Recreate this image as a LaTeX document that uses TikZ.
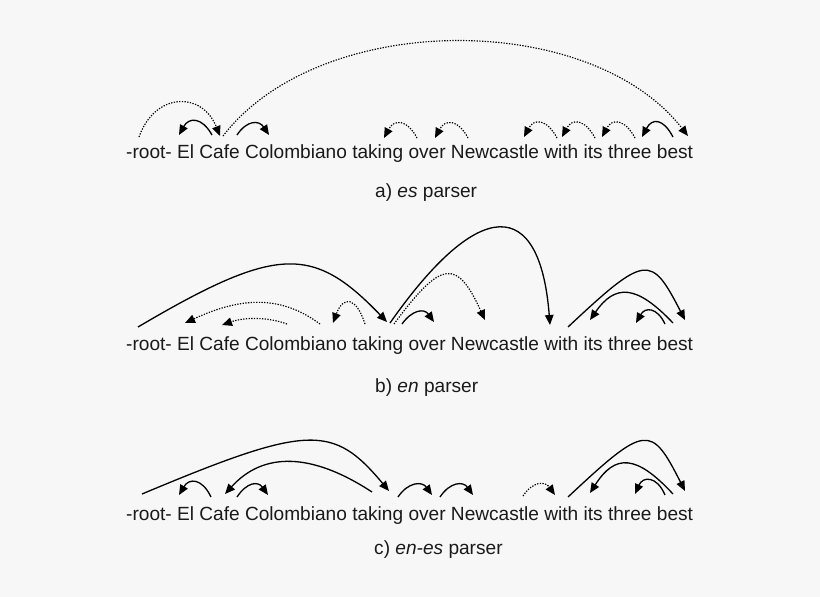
\documentclass[tikz,border=0pt]{standalone}
\usepackage{fontspec}
\setmainfont{Liberation Sans}
\usetikzlibrary{arrows.meta}
\definecolor{bgcol}{HTML}{F7F7F7}
\definecolor{txtcol}{HTML}{1A1A1A}
\tikzset{
  sent/.style={anchor=base west, inner sep=0pt, text=txtcol, font=\fontsize{19.1}{23}\selectfont},
  tipstyle/.style={-{Triangle[length=10pt,width=8.5pt]}},
  arcsolid/.style={tipstyle, line width=1.3pt, draw=black},
  arcdot/.style={tipstyle, line width=1.15pt, draw=black, dash pattern=on 1.3pt off 1.4pt},
}
\begin{document}
\begin{tikzpicture}[x=1pt,y=-1pt]
\fill[bgcol] (0,0) rectangle (820,597);
\useasboundingbox (0,0) rectangle (820,597);

% ---------- sentences and captions ----------
\node[sent] (sa) at (126,158.5) {-root- El Cafe Colombiano taking over Newcastle with its three best};
\node[sent] (la) at (375,197) {a) \textit{es} parser};
\node[sent] (sb) at (126,350) {-root- El Cafe Colombiano taking over Newcastle with its three best};
\node[sent] (lb) at (375,392) {b) \textit{en} parser};
\node[sent] (sc) at (126,520) {-root- El Cafe Colombiano taking over Newcastle with its three best};
\node[sent] (lc) at (374,554) {c) \textit{en-es} parser};

% ---------- panel a ----------
\coordinate (a1s) at (139,137);  \coordinate (a1t) at (220,136);
\coordinate (a2s) at (212,135);  \coordinate (a2t) at (179,135);
\coordinate (a4s) at (237,135);  \coordinate (a4t) at (269,135);
\coordinate (a5s) at (417,138);  \coordinate (a5t) at (384,138);
\coordinate (a6s) at (468,138);  \coordinate (a6t) at (435,138);
\coordinate (a7s) at (557,138);  \coordinate (a7t) at (524,137);
\coordinate (a8s) at (595,138);  \coordinate (a8t) at (562,137);
\coordinate (a9s) at (635,138);  \coordinate (a9t) at (602,137);
\coordinate (a10s) at (673,137); \coordinate (a10t) at (642,137);
\coordinate (a11s) at (223,136); \coordinate (a11t) at (688,136);

\draw[arcdot]   (a1s) .. controls +(16,-45) and +(-18,-45) .. (a1t);
\draw[arcsolid] (a2s) .. controls +(-10,-18) and +(10,-18) .. (a2t);
\draw[arcsolid] (a4s) .. controls +(10,-15) and +(-10,-15) .. (a4t);
\draw[arcdot]   (a5s) .. controls +(-10,-19) and +(10,-19) .. (a5t);
\draw[arcdot]   (a6s) .. controls +(-10,-19) and +(10,-19) .. (a6t);
\draw[arcdot]   (a7s) .. controls +(-10,-19) and +(10,-19) .. (a7t);
\draw[arcdot]   (a8s) .. controls +(-10,-19) and +(10,-19) .. (a8t);
\draw[arcdot]   (a9s) .. controls +(-10,-19) and +(10,-19) .. (a9t);
\draw[arcsolid] (a10s) .. controls +(-10,-19) and +(10,-19) .. (a10t);
\draw[arcdot]   (a11s) .. controls (320,10) and (590,10) .. (a11t);

% ---------- panel b ----------
\coordinate (b1s) at (138,327);  \coordinate (b1t) at (387,322);
\coordinate (b2s) at (320,324);  \coordinate (b2t) at (185,323);
\coordinate (b3s) at (287,324);  \coordinate (b3t) at (222,325);
\coordinate (b4s) at (365,324);  \coordinate (b4t) at (333,323);
\coordinate (b5s) at (390,323);  \coordinate (b5t) at (550,325);
\coordinate (b6s) at (394,324);  \coordinate (b6t) at (485,320);
\coordinate (b7s) at (402,324);  \coordinate (b7t) at (434,322);
\coordinate (b8s) at (568,327);  \coordinate (b8t) at (685,320);
\coordinate (b9s) at (673,323);  \coordinate (b9t) at (590,320);
\coordinate (b10s) at (665,324); \coordinate (b10t) at (636,323);

\draw[arcsolid] (b1s) .. controls (277,245) and (313,245) .. (b1t);
\draw[arcdot]   (b2s) .. controls (282,296) and (243,296) .. (b2t);
\draw[arcdot]   (b3s) .. controls (268,317) and (245,317) .. (b3t);
\draw[arcdot]   (b4s) .. controls +(-9,-28) and +(10,-27) .. (b4t);
\draw[arcsolid] (b5s) .. controls (479,196) and (540,196) .. (b5t);
\draw[arcdot]   (b6s) .. controls (442,259) and (457,259) .. (b6t);
\draw[arcsolid] (b7s) .. controls +(10,-14) and +(-10,-14) .. (b7t);
\draw[arcsolid] (b8s) .. controls (646,254) and (651,254) .. (b8t);
\draw[arcsolid] (b9s) .. controls (636,284) and (615,284) .. (b9t);
\draw[arcsolid] (b10s) .. controls (657,307) and (645,307) .. (b10t);

% ---------- panel c ----------
\coordinate (c1s) at (142,494);  \coordinate (c1t) at (389,491);
\coordinate (c2s) at (372,492);  \coordinate (c2t) at (225,494);
\coordinate (c3s) at (211,497);  \coordinate (c3t) at (179,495);
\coordinate (c4s) at (237,497);  \coordinate (c4t) at (268,495);
\coordinate (c5s) at (398,497);  \coordinate (c5t) at (432,495);
\coordinate (c6s) at (440,497);  \coordinate (c6t) at (473,495);
\coordinate (c7s) at (523,496);  \coordinate (c7t) at (555,495);
\coordinate (c8s) at (568,497);  \coordinate (c8t) at (685,491);
\coordinate (c9s) at (673,494);  \coordinate (c9t) at (590,493);
\coordinate (c10s) at (665,495); \coordinate (c10t) at (635,494);

\draw[arcsolid] (c1s) .. controls (309,424) and (333,424) .. (c1t);
\draw[arcsolid] (c2s) .. controls (311,452) and (263,452) .. (c2t);
\draw[arcsolid] (c3s) .. controls +(-9,-19) and +(10,-17) .. (c3t);
\draw[arcsolid] (c4s) .. controls +(10,-15) and +(-10,-14) .. (c4t);
\draw[arcsolid] (c5s) .. controls +(10,-15) and +(-10,-14) .. (c5t);
\draw[arcsolid] (c6s) .. controls +(10,-15) and +(-10,-14) .. (c6t);
\draw[arcdot]   (c7s) .. controls +(10,-15) and +(-10,-14) .. (c7t);
\draw[arcsolid] (c8s) .. controls (646,424) and (651,424) .. (c8t);
\draw[arcsolid] (c9s) .. controls (636,454) and (615,454) .. (c9t);
\draw[arcsolid] (c10s) .. controls (657,476) and (643,476) .. (c10t);
\end{tikzpicture}
\end{document}
